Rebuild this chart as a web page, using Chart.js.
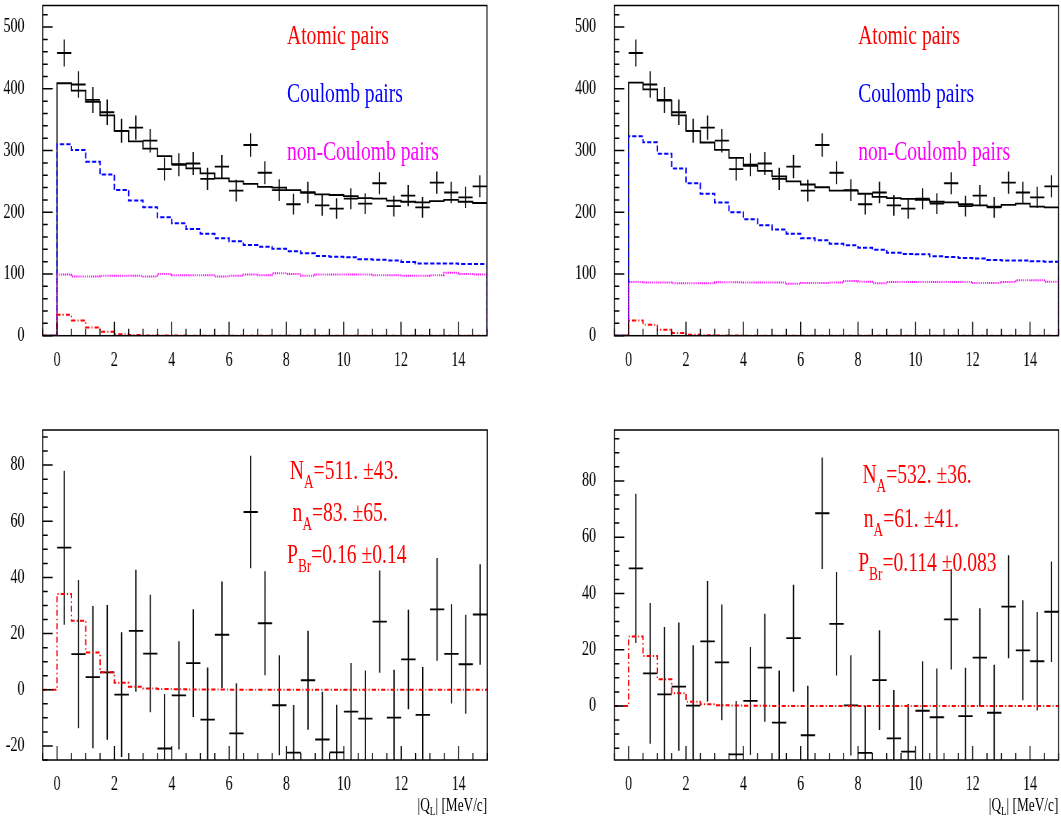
<!DOCTYPE html>
<html>
<head>
<meta charset="utf-8">
<script src="https://cdn.jsdelivr.net/npm/chart.js@4.4.1/dist/chart.umd.min.js"></script>
<style>
  html, body { margin: 0; padding: 0; background: #fff; overflow: hidden; }
  /* ROOT output looks squeezed sideways, so the whole page is drawn wide and compressed */
  #page { position: absolute; left: 0; top: 0; width: 1516px; height: 821px;
          transform: scaleX(0.7); transform-origin: 0 0;
          font-family: "Liberation Serif", "Times New Roman", serif; }
  .box { position: absolute; }
  .lbl { position: absolute; font-size: 28px; line-height: 1; white-space: nowrap; }
  .lbl sub { font-size: 19px; vertical-align: -9px; line-height: 0; }
  .axt { position: absolute; font-size: 19px; line-height: 1; white-space: nowrap; text-align: right; }
  .axt sub { font-size: 13px; vertical-align: -4px; line-height: 0; }
</style>
</head>
<body>
<div id="page">
  <div class="box" style="left:0;top:0;width:740px;height:400px"><canvas id="tl"></canvas></div>
  <div class="box" style="left:800px;top:0;width:715px;height:400px"><canvas id="tr"></canvas></div>
  <div class="box" style="left:0;top:400px;width:740px;height:421px"><canvas id="bl"></canvas></div>
  <div class="box" style="left:800px;top:400px;width:715px;height:421px"><canvas id="br"></canvas></div>

  <div class="lbl" style="left:410px;top:21px;color:#ff0000">Atomic pairs</div>
  <div class="lbl" style="left:410px;top:79px;color:#0000ff">Coulomb pairs</div>
  <div class="lbl" style="left:410px;top:137px;color:#ff00ff">non-Coulomb pairs</div>

  <div class="lbl" style="left:1226px;top:21px;color:#ff0000">Atomic pairs</div>
  <div class="lbl" style="left:1226px;top:79px;color:#0000ff">Coulomb pairs</div>
  <div class="lbl" style="left:1226px;top:137px;color:#ff00ff">non-Coulomb pairs</div>

  <div class="lbl" style="left:414px;top:456px;color:#ff0000">N<sub>A</sub>=511. ±43.</div>
  <div class="lbl" style="left:418px;top:498px;color:#ff0000">n<sub>A</sub>=83. ±65.</div>
  <div class="lbl" style="left:410px;top:540px;color:#ff0000">P<sub>Br</sub>=0.16 ±0.14</div>

  <div class="lbl" style="left:1232px;top:460px;color:#ff0000">N<sub>A</sub>=532. ±36.</div>
  <div class="lbl" style="left:1234px;top:504px;color:#ff0000">n<sub>A</sub>=61. ±41.</div>
  <div class="lbl" style="left:1226px;top:548px;color:#ff0000">P<sub>Br</sub>=0.114 ±0.083</div>

  <div class="axt" style="left:0;width:696px;top:795px">|Q<sub>L</sub>| [MeV/c]</div>
  <div class="axt" style="left:800px;width:712px;top:795px">|Q<sub>L</sub>| [MeV/c]</div>
</div>

<script>
// Binning of |Q_L| (MeV/c): 30 bins of 0.5
const binCentres = [0.25, 0.75, 1.25, 1.75, 2.25, 2.75, 3.25, 3.75, 4.25, 4.75,
    5.25, 5.75, 6.25, 6.75, 7.25, 7.75, 8.25, 8.75, 9.25, 9.75,
    10.25, 10.75, 11.25, 11.75, 12.25, 12.75, 13.25, 13.75, 14.25, 14.75];
const halfBin = 0.25;
const xMin = -0.5;
const xMax = 15;

// Measured pairs (same in both upper panels)
const dataCounts = [458, 407, 382, 362, 332, 337, 316, 270, 277, 279,
    254, 274, 235, 309, 264, 236, 213, 232, 211, 206,
    222, 214, 247, 210, 227, 208, 248, 232, 224, 242];
const dataErrors = [22, 21.5, 21, 20.5, 19.5, 19.6, 19, 18.6, 18.8, 18.8,
    18, 18.7, 17.6, 19, 18.5, 17.6, 16.8, 17.5, 16.8, 16.6,
    17.1, 16.8, 17.9, 16.7, 17.3, 16.7, 17.9, 17.5, 17.2, 17.8];

// Fitted sum
const fitLeft = [409, 397, 379, 357, 332, 315, 303, 291, 278, 271,
    263, 255, 250, 246, 241, 240, 236, 232, 229, 228,
    226, 223, 222, 219, 217, 216, 218, 220, 217, 215];
const fitRight = [410, 399, 381, 357, 332, 313, 301, 288, 275, 267,
    258, 250, 245, 240.5, 235, 235, 230, 225, 223, 221.6,
    220, 217, 216, 213, 211, 209, 212, 214, 209, 208];

// Coulomb pairs
const coulombLeft = [310, 301, 282, 261, 236, 219, 208, 192, 182, 173,
    165, 158, 153, 147, 144, 141, 137, 133.5, 129, 128,
    127, 124, 123, 122, 119.5, 117, 117, 117, 116, 116];
const coulombRight = [323, 313.5, 294.6, 271, 247, 230, 216, 200, 188.6, 179,
    172, 165, 158, 154.6, 149, 146.5, 142.7, 139.4, 134.6, 132.4,
    131.9, 128.6, 127.6, 126, 125, 122.7, 122, 122, 120.5, 120];

// non-Coulomb pairs
const nonCoulombLeft = [99, 96, 96, 97, 97, 97, 96, 100, 98, 98,
    98, 96, 97, 99, 98, 101, 100, 97, 99, 99,
    99, 99, 98, 98, 97, 97, 98, 102, 100, 99];
const nonCoulombRight = [87, 86, 86, 85, 85, 85, 86.5, 86.5, 86, 86,
    86, 84, 85.5, 85.5, 86, 88.6, 87.5, 85, 87, 87,
    87, 87, 87, 87, 85.5, 85.5, 87, 89.7, 90, 87.5];

// Atomic pairs
const atomicLeft = [34.1, 24.6, 13.3, 6.2, 2.5, 1.1, 0.5, 0.3, 0.2, 0.1,
    0.1, 0.1, 0, 0, 0, 0, 0, 0, 0, 0, 0, 0, 0, 0, 0, 0, 0, 0, 0, 0];
const atomicRight = [24.7, 17.8, 9.5, 4.5, 1.5, 0.6, 0.3, 0.2, 0.1, 0.1,
    0, 0, 0, 0, 0, 0, 0, 0, 0, 0, 0, 0, 0, 0, 0, 0, 0, 0, 0, 0];

// Residuals (data minus background), lower panels
const residLeft = [50.6, 12.7, 4.5, 6.2, -1.7, 21.0, 12.9, -20.9, -2.0, 9.5,
    -10.6, 19.6, -15.5, 63.3, 23.7, -5.5, -22.4, 3.4, -17.7, -22.3,
    -7.8, -10.3, 24.3, -9.9, 10.8, -8.9, 28.6, 12.8, 9.1, 26.8];
const residErrLeft = [27.4, 26.4, 25.3, 24, 22.2, 21.7, 20.9, 19.4, 19.3, 19.2,
    18.5, 19, 17.8, 20, 18.5, 17.8, 17, 17.6, 17, 17,
    17.3, 17.2, 18.2, 17, 17.7, 17, 18.3, 17.7, 17.6, 17.9];
const residRight = [48.9, 11.6, 4.1, 6.9, 0.1, 23.0, 15.5, -17.2, 1.8, 13.6,
    -5.9, 24.1, -10.4, 68.5, 29.2, 0.2, -16.7, 9.2, -11.5, -16.2,
    -1.7, -4.0, 30.8, -3.6, 17.2, -2.4, 35.3, 19.8, 15.9, 33.5];
const residErrRight = [26.5, 25, 24, 22.8, 21.5, 21.4, 20.6, 19, 19.2, 19.2,
    18.5, 19, 17.6, 19.8, 18.4, 17.8, 16.9, 17.7, 17.2, 16.9,
    17.6, 17.3, 17.8, 17.2, 17.5, 17.1, 18.3, 17.8, 17.5, 17.9];

// Tick labels
const xTicks = [0, 2, 4, 6, 8, 10, 12, 14];
const yTicksTop = [0, 100, 200, 300, 400, 500];
const yTicksBottomLeft = [-20, 0, 20, 40, 60, 80];
const yTicksBottomRight = [0, 20, 40, 60, 80];

// Histogram outline as a polyline: steps with vertical edges down to zero
function histOutline(values) {
    const pts = [{x: xMin, y: 0}, {x: binCentres[0] - halfBin, y: 0}];
    values.forEach(function(v, i) {
        pts.push({x: binCentres[i] - halfBin, y: v});
        pts.push({x: binCentres[i] + halfBin, y: v});
    });
    pts.push({x: binCentres[binCentres.length - 1] + halfBin, y: 0});
    return pts;
}

// Error crosses: horizontal bin bar plus vertical error bar, split by gaps
function crosses(values, errors) {
    const pts = [];
    values.forEach(function(v, i) {
        const c = binCentres[i];
        pts.push({x: c - halfBin, y: v}, {x: c + halfBin, y: v}, {x: c, y: null});
        pts.push({x: c, y: v - errors[i]}, {x: c, y: v + errors[i]}, {x: c, y: null});
    });
    return pts;
}

// ROOT-like frame with ticks pointing inward
const rootFrame = {
    id: 'rootFrame',
    afterDatasetsDraw(chart, args, opts) {
        const ctx = chart.ctx;
        const a = chart.chartArea;
        const xs = chart.scales.x;
        const ys = chart.scales.y;
        ctx.save();
        ctx.strokeStyle = '#000';
        ctx.lineWidth = 1.5;
        ctx.beginPath();
        for (let k = Math.ceil(xs.min / 0.5); k * 0.5 <= xs.max + 1e-9; k++) {
            const v = k * 0.5;
            const len = xTicks.includes(v) ? 14 : 7;
            const px = xs.getPixelForValue(v);
            ctx.moveTo(px, a.bottom);
            ctx.lineTo(px, a.bottom - len);
        }
        for (let k = Math.ceil(ys.min / opts.yMinor); k * opts.yMinor <= ys.max + 1e-9; k++) {
            const v = k * opts.yMinor;
            const len = opts.yMajor.includes(v) ? 14.3 : 7.1;
            const py = ys.getPixelForValue(v);
            ctx.moveTo(a.left, py);
            ctx.lineTo(a.left + len, py);
        }
        ctx.stroke();
        ctx.strokeRect(a.left, a.top, a.right - a.left, a.bottom - a.top);
        ctx.restore();
    }
};

function lineSet(points, color, dash, width) {
    return {
        data: points,
        borderColor: color,
        borderWidth: width,
        borderDash: dash,
        pointRadius: 0,
        fill: false,
        tension: 0,
        spanGaps: false
    };
}

function makePanel(id, datasets, yMin, yMax, yMajor, yMinor, frame) {
    const tickFont = {family: 'Liberation Serif', size: 20};
    return new Chart(document.getElementById(id), {
        type: 'line',
        data: {datasets: datasets},
        options: {
            responsive: true,
            maintainAspectRatio: false,
            animation: false,
            layout: {padding: {left: 0, top: frame.top, right: frame.right, bottom: 0}},
            plugins: {
                legend: {display: false},
                tooltip: {enabled: false},
                rootFrame: {yMajor: yMajor, yMinor: yMinor}
            },
            scales: {
                x: {
                    type: 'linear', min: xMin, max: xMax,
                    grid: {display: false}, border: {display: false},
                    ticks: {font: tickFont, color: '#000', padding: 5, maxRotation: 0, autoSkip: false,
                        callback: v => String(v)},
                    afterBuildTicks: s => { s.ticks = xTicks.map(v => ({value: v})); },
                    afterFit: s => { s.height = frame.bottom; s.paddingLeft = 0; s.paddingRight = 0; }
                },
                y: {
                    type: 'linear', min: yMin, max: yMax,
                    grid: {display: false}, border: {display: false},
                    ticks: {font: tickFont, color: '#000', padding: 18, autoSkip: false,
                        callback: v => String(v)},
                    afterBuildTicks: s => { s.ticks = yMajor.map(v => ({value: v})); },
                    afterFit: s => { s.width = frame.left; s.paddingTop = 0; s.paddingBottom = 0; }
                }
            }
        },
        plugins: [rootFrame]
    });
}

const dashBlue = [6, 3];
const dotMagenta = [1.5, 1.5];
const dashDotRed = [6, 3, 1.5, 3];

// Upper left
makePanel('tl', [
    lineSet(histOutline(atomicLeft), '#ff0000', dashDotRed, 2),
    lineSet(histOutline(nonCoulombLeft), '#ff00ff', dotMagenta, 2),
    lineSet(histOutline(coulombLeft), '#0000ff', dashBlue, 2),
    lineSet(histOutline(fitLeft), '#000000', [], 1.8),
    lineSet(crosses(dataCounts, dataErrors), '#000000', [], 1.8)
], 0, 535, yTicksTop, 20, {left: 61, right: 44.3, top: 5.5, bottom: 64.3});

// Upper right
makePanel('tr', [
    lineSet(histOutline(atomicRight), '#ff0000', dashDotRed, 2),
    lineSet(histOutline(nonCoulombRight), '#ff00ff', dotMagenta, 2),
    lineSet(histOutline(coulombRight), '#0000ff', dashBlue, 2),
    lineSet(histOutline(fitRight), '#000000', [], 1.8),
    lineSet(crosses(dataCounts, dataErrors), '#000000', [], 1.8)
], 0, 535, yTicksTop, 20, {left: 77.6, right: 2.6, top: 5.5, bottom: 64.3});

// Lower left
makePanel('bl', [
    lineSet(histOutline(atomicLeft), '#ff0000', dashDotRed, 2),
    lineSet(crosses(residLeft, residErrLeft), '#000000', [], 1.8)
], -25, 92.5, yTicksBottomLeft, 5, {left: 61, right: 43.9, top: 30, bottom: 61});

// Lower right
makePanel('br', [
    lineSet(histOutline(atomicRight), '#ff0000', dashDotRed, 2),
    lineSet(crosses(residRight, residErrRight), '#000000', [], 1.8)
], -19.2, 98.1, yTicksBottomRight, 5, {left: 77.6, right: 2.6, top: 30, bottom: 61});
</script>
</body>
</html>
